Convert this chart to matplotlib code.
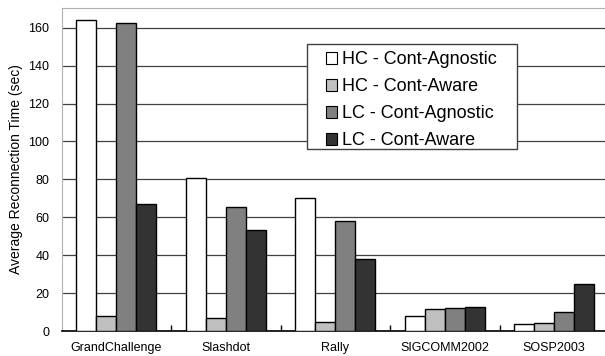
import numpy as np
import matplotlib
matplotlib.use("Agg")
import matplotlib.pyplot as plt
from matplotlib.patches import Rectangle

plt.rcParams['font.family'] = ['Liberation Sans', 'DejaVu Sans']

datasets = ["GrandChallenge", "Slashdot", "Rally", "SIGCOMM2002", "SOSP2003"]
series_names = ["HC - Cont-Agnostic", "HC - Cont-Aware", "LC - Cont-Agnostic", "LC - Cont-Aware"]
hc_agnostic = [164, 80.5, 70, 8.1, 3.7]
hc_aware = [7.9, 6.7, 4.6, 11.4, 4.4]
lc_agnostic = [162.3, 65.2, 58, 12, 10]
lc_aware = [67.1, 53.3, 38, 12.7, 25]
colors = ["#ffffff", "#c0c0c0", "#808080", "#333333"]

W, H = 605, 356
fig = plt.figure(figsize=(W / 100, H / 100), dpi=100)
ax = fig.add_axes([61.7 / W, 25 / H, (609 - 61.7) / W, 323 / H])

x = np.arange(len(datasets))
w = 0.183
for i, (vals, name, c) in enumerate(zip([hc_agnostic, hc_aware, lc_agnostic, lc_aware], series_names, colors)):
    ax.bar(x + (i - 1.5) * w, vals, w, color=c, edgecolor="black", linewidth=1.0,
           label=name, zorder=3)

ax.set_xlim(-0.5, 4.5)
ax.set_ylim(0, 170.4)
ax.set_yticks(range(0, 161, 20))
ax.yaxis.grid(True, color="#404040", linewidth=0.9)
ax.set_axisbelow(True)

ax.set_xticks(x)
ax.set_xticklabels(datasets, fontsize=9)
ax.set_xticks(np.arange(0.5, 4.5, 1), minor=True)
ax.tick_params(axis="x", which="major", length=0, pad=8)
ax.tick_params(axis="x", which="minor", length=4, direction="in", width=1, color="black")
ax.tick_params(axis="y", length=0, pad=9, labelsize=9)

ax.spines["right"].set_visible(False)
ax.spines["top"].set_color("#b0b0b0")
ax.spines["left"].set_color("#b0b0b0")
ax.spines["bottom"].set_color("black")
ax.spines["bottom"].set_linewidth(1.2)

ax.set_ylabel("Average Reconnection Time (sec)", fontsize=10, labelpad=4)

# legend box drawn separately so the padding around the entries can be wider
box = Rectangle((306.7 / W, 1 - 149 / H), (517 - 306.7) / W, (149 - 44) / H,
                transform=fig.transFigure, facecolor="white", edgecolor="#404040",
                linewidth=1.0, zorder=5, clip_on=False)
ax.add_patch(box)
leg = ax.legend(loc="upper left", bbox_to_anchor=(326 / W, 1 - 51.5 / H),
                bbox_transform=fig.transFigure, fontsize=13, frameon=False,
                handlelength=0.6, handleheight=0.6, handletextpad=0.3,
                labelspacing=0.55, borderpad=0, borderaxespad=0)
leg.set_zorder(6)
for h in leg.legend_handles:
    h.set_linewidth(0.8)

fig.savefig("out.png", dpi=100)
